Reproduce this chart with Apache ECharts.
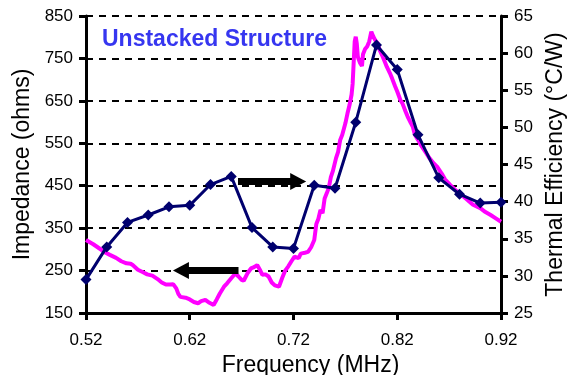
<!DOCTYPE html>
<html><head><meta charset="utf-8">
<script src="https://cdn.jsdelivr.net/npm/echarts@6/dist/echarts.min.js"></script>
<style>html,body{margin:0;padding:0;background:#fff}#c{width:578px;height:375px}</style>
</head><body><div id="c"></div>
<script>
// Blue series: Thermal Efficiency (°C/W), right axis
const blueFreq = [0.52,0.54,0.56,0.58,0.60,0.62,0.64,0.66,0.68,0.70,0.72,0.74,0.76,0.78,0.80,0.82,0.84,0.86,0.88,0.90,0.92];
const thermal = [29.5,33.9,37.2,38.2,39.3,39.5,42.3,43.4,36.5,33.9,33.7,42.2,41.8,50.7,61.1,57.8,49.0,43.2,41.0,39.8,39.9];
// Pink series: Impedance (ohms), left axis
const pinkFreq = [0.520,0.527,0.533,0.539,0.543,0.549,0.554,0.559,0.563,0.565,0.570,0.575,0.579,0.584,0.589,0.593,0.597,0.601,0.604,0.607,0.609,0.611,0.616,0.620,0.624,0.628,0.631,0.635,0.639,0.643,0.646,0.649,0.653,0.656,0.660,0.664,0.667,0.670,0.672,0.673,0.676,0.679,0.682,0.685,0.688,0.690,0.693,0.696,0.699,0.702,0.706,0.709,0.712,0.715,0.718,0.721,0.725,0.727,0.731,0.734,0.737,0.740,0.742,0.744,0.746,0.748,0.750,0.752,0.754,0.756,0.758,0.761,0.763,0.765,0.767,0.770,0.772,0.774,0.776,0.777,0.778,0.779,0.780,0.781,0.782,0.784,0.786,0.787,0.789,0.791,0.793,0.795,0.797,0.799,0.801,0.803,0.806,0.808,0.810,0.813,0.815,0.818,0.820,0.823,0.825,0.828,0.830,0.833,0.835,0.837,0.840,0.843,0.847,0.851,0.855,0.859,0.863,0.866,0.871,0.876,0.882,0.888,0.893,0.900,0.905,0.910,0.915,0.920];
const impedance = [322,312,302,292,287,280,272,267,266,263,252,246,241,238,230,222,217,217,218,208,195,188,186,182,176,173,178,181,174,169,182,196,212,220,232,243,236,228,226,224,245,255,258,263,250,240,241,236,222,215,212,232,250,260,272,283,279,290,292,294,305,322,360,372,393,385,420,432,445,470,485,515,530,558,570,597,620,640,665,690,740,790,801,785,754,740,732,760,772,778,790,813,801,792,786,770,754,742,730,715,703,684,672,652,644,625,613,598,589,570,558,545,530,515,503,493,478,465,452,440,428,416,405,397,388,381,373,365];
// Axis ticks
const xTicks = [0.52,0.62,0.72,0.82,0.92];
const leftTicks = [150,250,350,450,550,650,750,850];
const rightTicks = [25,30,35,40,45,50,55,60,65];
// Annotation arrows (data units)
const leftArrowFreq = [0.667,0.6115]; const leftArrowVal = 250;
const rightArrowFreq = [0.6665,0.7245]; const rightArrowVal = 42.7;

const pinkData = pinkFreq.map((f,i)=>[f,impedance[i]]);
const blueData = blueFreq.map((f,i)=>[f,thermal[i]]);
const FONT = 'Liberation Sans, Arial, sans-serif';
const chart = echarts.init(document.getElementById('c'));
chart.setOption({
  animation:false,
  title:{text:'Unstacked Structure',left:97,top:23,textStyle:{color:'#3636F0',fontSize:23,fontWeight:'bold',fontFamily:FONT}},
  grid:{left:86,right:77,top:16,bottom:62,containLabel:false,outerBoundsMode:'none'},
  xAxis:{type:'value',min:xTicks[0],max:xTicks[xTicks.length-1],interval:0.1,
    name:'Frequency (MHz)',nameLocation:'middle',nameGap:34,
    nameTextStyle:{color:'#000',fontSize:23,fontFamily:FONT,padding:[0,0,0,34]},
    axisLine:{lineStyle:{color:'#000',width:3}},axisTick:{length:7,lineStyle:{color:'#000',width:3}},
    axisLabel:{color:'#000',fontSize:17,fontFamily:FONT,margin:19,formatter:v=>v.toFixed(2)},
    splitLine:{show:false}},
  yAxis:[
    {type:'value',min:leftTicks[0],max:leftTicks[leftTicks.length-1],interval:100,position:'left',
     name:'Impedance (ohms)',nameLocation:'middle',nameGap:52,nameRotate:90,
     nameTextStyle:{color:'#000',fontSize:23,fontFamily:FONT},
     axisLine:{show:true,lineStyle:{color:'#000',width:3}},axisTick:{show:true,length:7,lineStyle:{color:'#000',width:3}},
     axisLabel:{color:'#000',fontSize:17,fontFamily:FONT,margin:13},
     splitLine:{show:true,lineStyle:{color:'#000',width:2,type:[7,6]}}},
    {type:'value',min:rightTicks[0],max:rightTicks[rightTicks.length-1],interval:5,position:'right',
     name:'Thermal Efficiency (°C/W)',nameLocation:'middle',nameGap:41,nameRotate:90,
     nameTextStyle:{color:'#000',fontSize:23,fontFamily:FONT},
     axisLine:{show:true,lineStyle:{color:'#000',width:3}},axisTick:{show:true,length:7,lineStyle:{color:'#000',width:3}},
     axisLabel:{color:'#000',fontSize:17,fontFamily:FONT,margin:13},
     splitLine:{show:false}}
  ],
  series:[
    {type:'line',yAxisIndex:0,data:pinkData,showSymbol:false,symbol:'none',
     lineStyle:{color:'#FF00FF',width:4},itemStyle:{color:'#FF00FF'},z:2,
     markLine:{silent:true,symbol:['none','triangle'],symbolSize:[17,16],label:{show:false},
       lineStyle:{color:'#000',width:7,type:'solid'},
       data:[[{coord:[leftArrowFreq[0],leftArrowVal]},{coord:[leftArrowFreq[1],leftArrowVal]}]]}},
    {type:'line',yAxisIndex:1,data:blueData,symbol:'diamond',symbolSize:11,
     lineStyle:{color:'#00006E',width:3},itemStyle:{color:'#00006E'},z:3,
     markLine:{silent:true,symbol:['none','triangle'],symbolSize:[17,16],label:{show:false},
       lineStyle:{color:'#000',width:7,type:'solid'},
       data:[[{coord:[rightArrowFreq[0],rightArrowVal]},{coord:[rightArrowFreq[1],rightArrowVal]}]]}}
  ]
});
</script></body></html>
